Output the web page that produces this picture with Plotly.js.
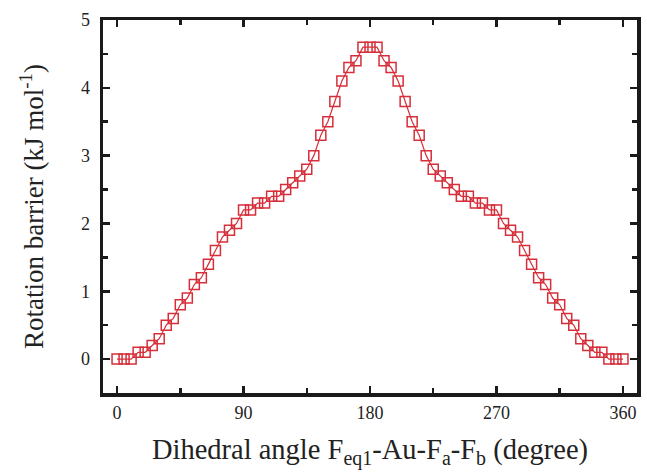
<!DOCTYPE html>
<html>
<head>
<meta charset="utf-8">
<script src="https://cdn.plot.ly/plotly-3.0.1.min.js"></script>
<style>html,body{margin:0;padding:0;background:#fff;}#chart{width:647px;height:475px;}</style>
</head>
<body>
<div id="chart"></div>
<script>
var angles = [0,5,10,15,20,25,30,35,40,45,50,55,60,65,70,75,80,85,90,95,100,105,110,115,120,125,130,135,140,145,150,155,160,165,170,175,180,
  185,190,195,200,205,210,215,220,225,230,235,240,245,250,255,260,265,270,275,280,285,290,295,300,305,310,315,320,325,330,335,340,345,350,355,360];
var barrier = [0,0,0,0.1,0.1,0.2,0.3,0.5,0.6,0.8,0.9,1.1,1.2,1.4,1.6,1.8,1.9,2.0,2.2,2.2,2.3,2.3,2.4,2.4,2.5,2.6,2.7,2.8,3.0,3.3,3.5,3.8,4.1,4.3,4.4,4.6,4.6,
  4.6,4.4,4.3,4.1,3.8,3.5,3.3,3.0,2.8,2.7,2.6,2.5,2.4,2.4,2.3,2.3,2.2,2.2,2.0,1.9,1.8,1.6,1.4,1.2,1.1,0.9,0.8,0.6,0.5,0.3,0.2,0.1,0.1,0,0,0];
var xTicks = [0,90,180,270,360];
var yTicks = [0,1,2,3,4,5];

var red = '#d62f3a';
var trace = {
  x: angles, y: barrier, type: 'scatter', mode: 'lines+markers',
  line: {color: red, width: 1.2},
  marker: {symbol: 'square-open', size: 10, color: red, line: {width: 1.5, color: 'rgba(214,47,58,0.85)'}},
  hoverinfo: 'x+y'
};
var fam = 'Liberation Serif, Times New Roman, serif';
var layout = {
  width: 647, height: 475,
  margin: {l: 103, r: 10, t: 20, b: 82},
  paper_bgcolor: '#fff', plot_bgcolor: '#fff',
  showlegend: false,
  font: {family: fam, color: '#222'},
  xaxis: {
    range: [-10, 370], tickvals: xTicks, ticktext: xTicks.map(String),
    ticks: 'inside', ticklen: 7, tickwidth: 2.5, tickcolor: '#1a1a1a',
    minor: {tickvals: [45,135,225,315], ticks: 'inside', ticklen: 5, tickwidth: 2.5, tickcolor: '#1a1a1a'},
    showline: true, linewidth: 3.5, linecolor: '#1a1a1a', mirror: 'ticks',
    showgrid: false, zeroline: false,
    ticklabelstandoff: 1,
    tickfont: {family: fam, size: 18, color: '#222'},
    title: {text: 'Dihedral angle F<sub>eq1</sub>-Au-F<sub>a</sub>-F<sub>b</sub> (degree)', font: {family: fam, size: 28.5, color: '#222'}, standoff: 18}
  },
  yaxis: {
    range: [-0.5, 5], tickvals: yTicks, ticktext: yTicks.map(String),
    ticks: 'inside', ticklen: 7, tickwidth: 2.5, tickcolor: '#1a1a1a',
    minor: {tickvals: [0.5,1.5,2.5,3.5,4.5], ticks: 'inside', ticklen: 5, tickwidth: 2.5, tickcolor: '#1a1a1a'},
    showline: true, linewidth: 3.5, linecolor: '#1a1a1a', mirror: 'ticks',
    showgrid: false, zeroline: false,
    ticklabelstandoff: 6,
    tickfont: {family: fam, size: 18, color: '#222'},
    title: {text: 'Rotation barrier (kJ mol<sup>-1</sup>)', font: {family: fam, size: 27, color: '#222'}, standoff: 30}
  }
};
Plotly.newPlot('chart', [trace], layout, {displayModeBar: false, staticPlot: true});
</script>
</body>
</html>
